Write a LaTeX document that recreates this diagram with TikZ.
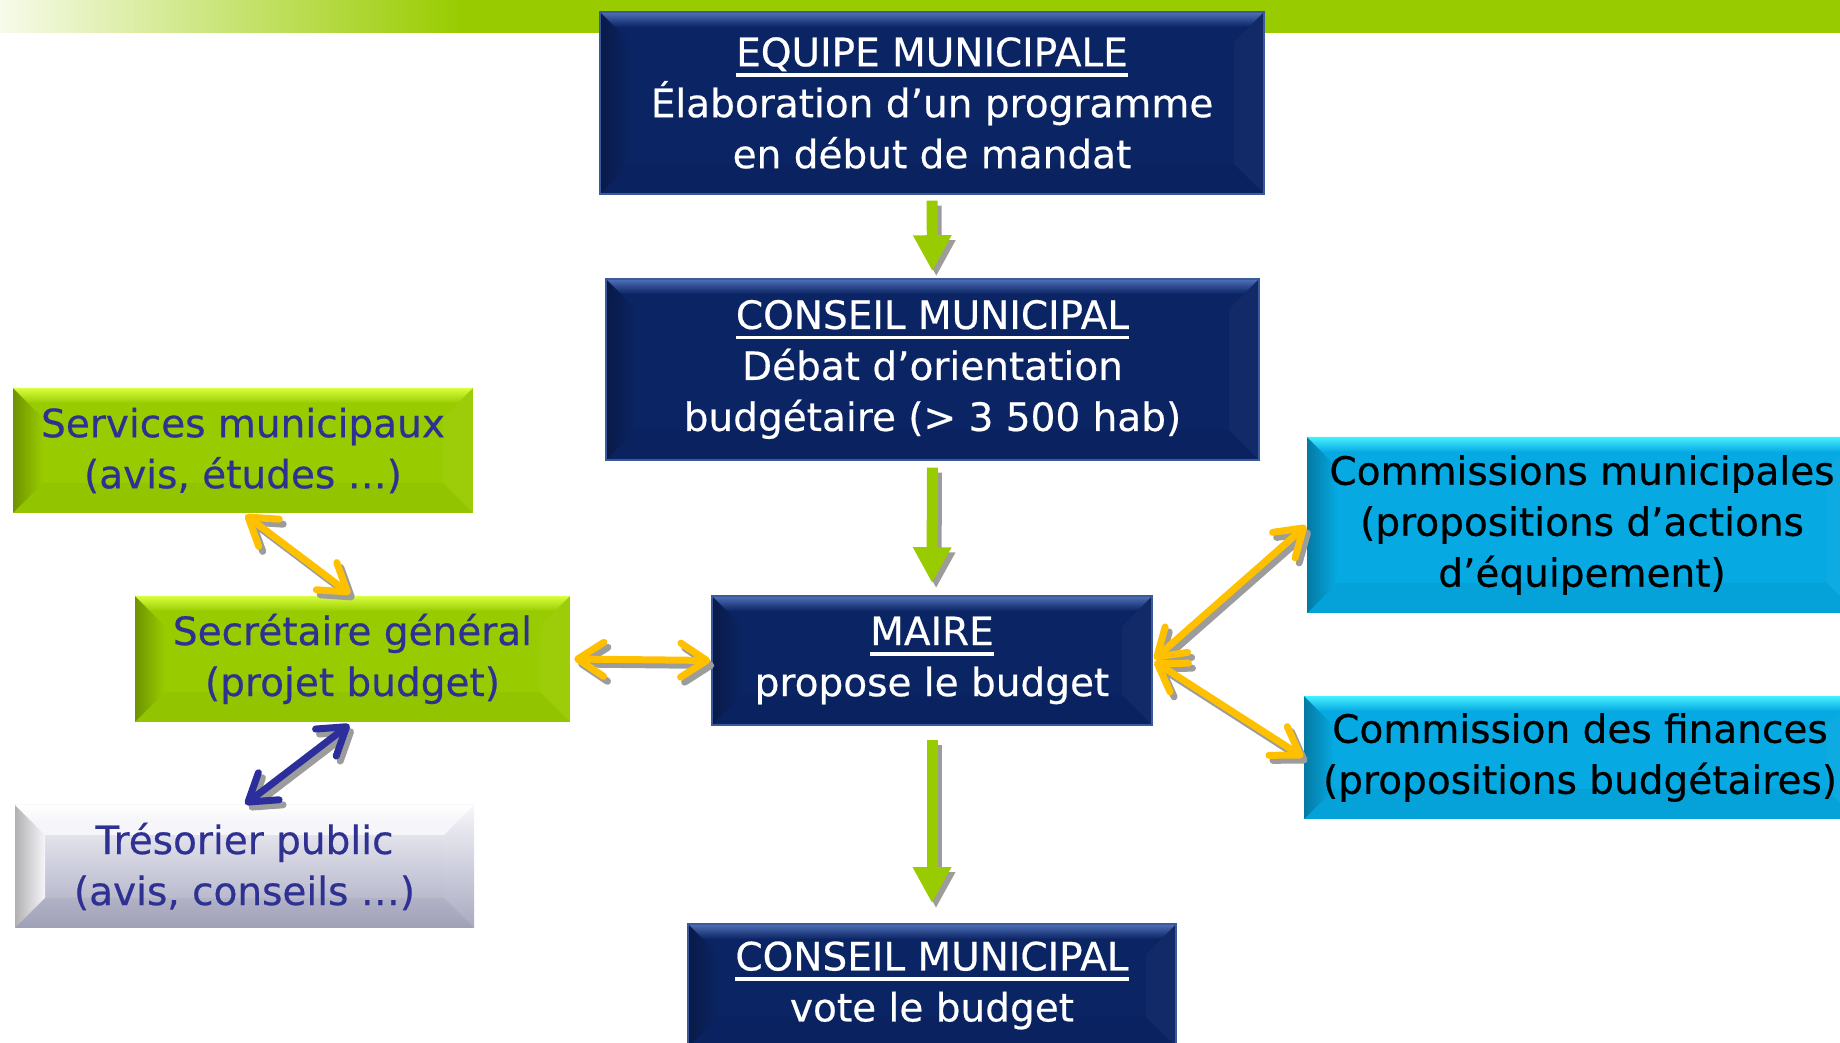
\documentclass[tikz,border=0pt]{standalone}
\usepackage{fontspec}
\setmainfont{DejaVu Sans}[FakeBold=0.5]
\usetikzlibrary{arrows.meta,calc}

\definecolor{navy}{HTML}{0B2463}
\definecolor{navylight}{HTML}{5070B8}
\definecolor{navyedge}{HTML}{3A5A9C}
\definecolor{cyanbase}{HTML}{06A9E2}
\definecolor{cyanlight}{HTML}{45F0FF}
\definecolor{grnbase}{HTML}{99CC00}
\definecolor{grnlight}{HTML}{D8FF40}
\definecolor{graytop}{HTML}{F6F6FA}
\definecolor{graybot}{HTML}{A6A7BF}
\definecolor{txtblue}{HTML}{2E3192}
\definecolor{orange1}{HTML}{FFC000}
\definecolor{arrblue}{HTML}{2B2E9B}
\definecolor{shadowgray}{HTML}{9C9C9C}
\definecolor{barpale}{HTML}{F7FBEA}

\newcommand\ulx[1]{\setbox0\hbox{#1}\rlap{\rule[-10.5pt]{\wd0}{3.5pt}}\box0}

\tikzset{
  bevel/.style 2 args={path picture={
      \path (path picture bounding box.south west) coordinate (bsw)
            (path picture bounding box.north east) coordinate (bne);
      \shade[left color=#1!72!black, right color=#1] (bsw) -- (bsw|-bne) -- ($(bsw|-bne)+(30pt,-30pt)$) -- ($(bsw)+(30pt,30pt)$) -- cycle;
      \fill[white,opacity=.03] (bne) -- (bne|-bsw) -- ($(bne|-bsw)+(-30pt,30pt)$) -- ($(bne)+(-30pt,-30pt)$) -- cycle;
      \fill[black,opacity=.04] (bsw) -- (bsw-|bne) -- ($(bsw-|bne)+(-30pt,30pt)$) -- ($(bsw)+(30pt,30pt)$) -- cycle;
      \shade[top color=#2, bottom color=#1, middle color=#1] (bsw|-bne) -- (bne) -- ($(bne)+(-30pt,-30pt)$) -- ($(bsw|-bne)+(30pt,-30pt)$) -- cycle;
  }},
  box/.style={inner sep=0pt, align=center, font=\fontsize{39}{51}\selectfont},
  navybox/.style={box, fill=navy, draw=navyedge, line width=1.5pt, text=white, bevel={navy}{navylight}},
  grnbox/.style={box, fill=grnbase, text=txtblue, bevel={grnbase}{grnlight}},
  cyanbox/.style={box, fill=cyanbase, text=black, bevel={cyanbase}{cyanlight}},
  graybox/.style={box, top color=graytop, bottom color=graybot, text=txtblue, bevel={graytop}{white}},
  garrow/.style={line width=11pt, draw=grnbase, -{Triangle[width=36pt,length=36pt]}},
  oarrow/.style={line width=7pt, draw=orange1, line cap=round,
     {Straight Barb[round,length=26pt,width=34pt]}-{Straight Barb[round,length=26pt,width=34pt]}},
  barrow/.style={oarrow, draw=arrblue},
  shad/.style={draw=shadowgray, transform canvas={shift={(4pt,-5pt)}}},
}

\begin{document}
\begin{tikzpicture}[x=1pt,y=1pt]
\useasboundingbox (0,0) rectangle (1840,1043);
% top band
\shade[left color=barpale, right color=grnbase] (0,1010) rectangle (460,1043);
\fill[grnbase] (459,1010) rectangle (1840,1043);

% boxes
\node[navybox, minimum width=664pt, minimum height=182pt] (equipe) at (932,940)
  {\ulx{EQUIPE MUNICIPALE}\\Élaboration d’un programme\\en début de mandat};
\node[navybox, minimum width=653pt, minimum height=181pt] (conseil) at (932.5,673.5)
  {\ulx{CONSEIL MUNICIPAL}\\Débat d’orientation\\budgétaire (> 3 500 hab)};
\node[navybox, minimum width=440pt, minimum height=129pt] (maire) at (932,382.5)
  {\ulx{MAIRE}\\propose le budget};
\node[navybox, minimum width=488pt, minimum height=123pt] (vote) at (932,57.5)
  {\ulx{CONSEIL MUNICIPAL}\\vote le budget};
\node[grnbox, minimum width=460pt, minimum height=125pt] (serv) at (243,592.5)
  {Services municipaux\\(avis, études …)};
\node[grnbox, minimum width=435pt, minimum height=126pt] (sec) at (352.5,384)
  {Secrétaire général\\(projet budget)};
\node[graybox, minimum width=459pt, minimum height=123pt] (tres) at (244.5,176.5)
  {Trésorier public\\(avis, conseils …)};
\node[cyanbox, minimum width=550pt, minimum height=176pt] (cm) at (1582,518)
  {Commissions municipales\\(propositions d’actions\\d’équipement)};
\node[cyanbox, minimum width=552pt, minimum height=123pt] (cf) at (1580,285.5)
  {Commission des finances\\(propositions budgétaires)};

% green arrows
\draw[garrow, shad, shorten <=6pt, shorten >=7pt] (equipe) -- (conseil);
\draw[garrow, shorten <=6pt, shorten >=7pt] (equipe) -- (conseil);
\draw[garrow, shad, shorten <=7pt, shorten >=12pt] (conseil) -- (maire);
\draw[garrow, shorten <=7pt, shorten >=12pt] (conseil) -- (maire);
\draw[garrow, shad, shorten <=14pt, shorten >=20pt] (maire) -- (vote);
\draw[garrow, shorten <=14pt, shorten >=20pt] (maire) -- (vote);

% orange / blue arrows
\draw[oarrow, shad, shorten <=3pt, shorten >=3pt] (serv.south) -- (sec.north);
\draw[oarrow, shorten <=3pt, shorten >=3pt] (serv.south) -- (sec.north);
\draw[oarrow, shad, shorten <=4pt, shorten >=1pt] (sec.east) -- (maire.west);
\draw[oarrow, shorten <=4pt, shorten >=1pt] (sec.east) -- (maire.west);
\draw[barrow, shad, shorten <=4pt, shorten >=1pt] (sec.south) -- (tres.north);
\draw[barrow, shorten <=4pt, shorten >=1pt] (sec.south) -- (tres.north);
\draw[oarrow, shad, shorten <=2pt, shorten >=1pt] (maire.east) -- (cm.west);
\draw[oarrow, shorten <=2pt, shorten >=1pt] (maire.east) -- (cm.west);
\draw[oarrow, shad, shorten <=2pt, shorten >=1pt] (maire.east) -- (cf.west);
\draw[oarrow, shorten <=2pt, shorten >=1pt] (maire.east) -- (cf.west);
\end{tikzpicture}
\end{document}
